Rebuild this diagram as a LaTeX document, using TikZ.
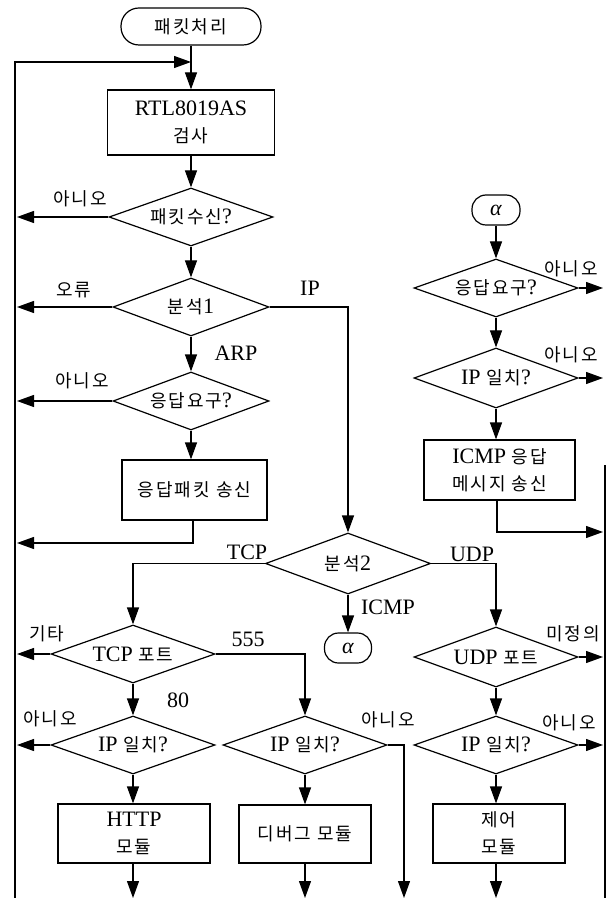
\documentclass[tikz,border=0pt]{standalone}
\usepackage{fontspec}
\setmainfont{Liberation Serif}
\newfontfamily\krfont[LetterSpace=11]{Noto Sans CJK KR}
\newcommand\krt[1]{{\krfont\fontsize{9pt}{13.5pt}\selectfont #1}}
\usetikzlibrary{arrows.meta,shapes.geometric}
\begin{document}
\begin{tikzpicture}[x=0.5pt,y=-0.5pt,
  line width=0.6pt,
  every node/.style={font=\fontsize{11pt}{13.5pt}\selectfont},
  dia/.style={draw,diamond,shape aspect=2.83,inner sep=0pt,minimum width=82pt,minimum height=29pt},
  box/.style={draw,rectangle,inner sep=0pt,align=center},
  term/.style={draw,rectangle,inner sep=0pt},
  arr/.style={-{Triangle[width=6pt,length=8.5pt]}},
  lab/.style={inner sep=0pt}]
\useasboundingbox (0,0) rectangle (606,898);
% helper coordinates
\coordinate (LA) at (17,0);
\coordinate (RA) at (603,0);
\coordinate (BA) at (0,898);
\coordinate (Ltop) at (15,62);
\coordinate (Lbot) at (15,898);
\coordinate (J1) at (191,62);
\coordinate (Rtop) at (605,465);
\coordinate (Rbot) at (605,898);
% nodes
\node[term,rounded corners=9pt,minimum width=70pt,minimum height=18.5pt] (start) at (191,26.5) {\krt{패킷처리}};
\node[box,minimum width=83.5pt,minimum height=32.5pt] (rtl) at (191,122.5) {RTL8019AS\\\krt{검사}};
\node[dia] (recv) at (191,217) {\krt{패킷수신}?};
\node[dia,minimum width=78pt] (an1) at (191,307) {\krt{분석}1};
\node[dia,minimum width=78pt] (req1) at (191,401) {\krt{응답요구}?};
\node[box,minimum width=72.5pt,minimum height=30pt] (resp) at (194.5,490) {\krt{응답패킷 송신}};
\node[dia,minimum width=82.5pt,minimum height=30.5pt] (an2) at (348,563.5) {\krt{분석}2};
\node[term,rounded corners=7pt,minimum width=23.5pt,minimum height=15pt] (a2) at (348,648) {\itshape α};
\node[dia] (tcpp) at (133,654) {TCP \krt{포트}};
\node[dia] (ipL) at (133,745) {IP \krt{일치}?};
\node[dia] (ipM) at (305,745) {IP \krt{일치}?};
\node[box,minimum width=76pt,minimum height=29.5pt] (http) at (134,833.5) {HTTP\\\krt{모듈}};
\node[box,minimum width=66pt,minimum height=29pt] (dbg) at (305,834) {\krt{디버그 모듈}};
\node[dia,minimum height=30pt] (udpp) at (496,657) {UDP \krt{포트}};
\node[dia] (ipR) at (496,745) {IP \krt{일치}?};
\node[box,minimum width=66pt,minimum height=29.5pt] (ctl) at (499,833.5) {\krt{제어}\\\krt{모듈}};
\node[term,rounded corners=7pt,minimum width=24pt,minimum height=15pt] (a1) at (496,210) {\itshape α};
\node[dia] (req2) at (496,288) {\krt{응답요구}?};
\node[dia,minimum height=30pt] (ipR2) at (496,378) {IP \krt{일치}?};
\node[box,minimum width=75.5pt,minimum height=30pt] (icmp) at (499.5,470) {ICMP \krt{응답}\\\krt{메시지 송신}};
\coordinate (rb) at (193,543);
\coordinate (mr) at (404,745);
\coordinate (ib) at (497,532);
% connectors
\draw[arr] (Lbot) -- (Ltop) -- (J1);
\draw[arr] (start) -- (rtl);
\draw[arr] (rtl) -- (recv);
\draw[arr] (recv.west) -- (recv.west -| LA);
\draw[arr] (recv) -- (an1);
\draw[arr] (an1.west) -- (an1.west -| LA);
\draw[arr] (an1.east) -| (an2.north);
\draw[arr] (an1) -- (req1);
\draw[arr] (req1.west) -- (req1.west -| LA);
\draw[arr] (req1) -- (req1 |- resp.north);
\draw[arr] (resp.south -| rb) -- (rb) -- (rb -| LA);
\draw[arr] (an2.west) -| (tcpp.north);
\draw[arr] (an2) -- (a2);
\draw[arr] (an2.east) -| (udpp.north);
\draw[arr] (tcpp.west) -- (tcpp.west -| LA);
\draw[arr] (tcpp.east) -| (ipM.north);
\draw[arr] (tcpp) -- (ipL);
\draw[arr] (ipL.west) -- (ipL.west -| LA);
\draw[arr] (ipL) -- (ipL |- http.north);
\draw[arr] (ipL |- http.south) -- (ipL |- BA);
\draw[arr] (ipM.east) -- (mr) -- (mr |- BA);
\draw[arr] (ipM) -- (ipM |- dbg.north);
\draw[arr] (dbg.south) -- (dbg.south |- BA);
\draw[arr] (udpp.east) -- (udpp.east -| RA);
\draw[arr] (udpp) -- (ipR);
\draw[arr] (ipR.east) -- (ipR.east -| RA);
\draw[arr] (ipR) -- (ipR |- ctl.north);
\draw[arr] (ipR |- ctl.south) -- (ipR |- BA);
\draw[arr] (a1) -- (req2);
\draw[arr] (req2.east) -- (req2.east -| RA);
\draw[arr] (req2) -- (ipR2);
\draw[arr] (ipR2.east) -- (ipR2.east -| RA);
\draw[arr] (ipR2) -- (ipR2 |- icmp.north);
\draw[arr] (ib |- icmp.south) -- (ib) -- (ib -| RA);
\draw (Rtop) -- (Rbot);
% labels
\node[lab] (l1) at (80,199) {\krt{아니오}};
\node[lab] (l2) at (74,290) {\krt{오류}};
\node[lab] (l3) at (310,288) {IP};
\node[lab] (l4) at (236,353) {ARP};
\node[lab] (l5) at (82,381) {\krt{아니오}};
\node[lab] (l6) at (247,552) {TCP};
\node[lab] (l7) at (47,634) {\krt{기타}};
\node[lab] (l8) at (248,639) {555};
\node[lab] (l9) at (178,700) {80};
\node[lab] (l10) at (50,719) {\krt{아니오}};
\node[lab] (l11) at (388,607) {ICMP};
\node[lab] (l12) at (472,554) {UDP};
\node[lab] (l13) at (573,634) {\krt{미정의}};
\node[lab] (l14) at (388,720) {\krt{아니오}};
\node[lab] (l15) at (569,723) {\krt{아니오}};
\node[lab] (l16) at (571,269) {\krt{아니오}};
\node[lab] (l17) at (571,355) {\krt{아니오}};
\end{tikzpicture}
\end{document}
